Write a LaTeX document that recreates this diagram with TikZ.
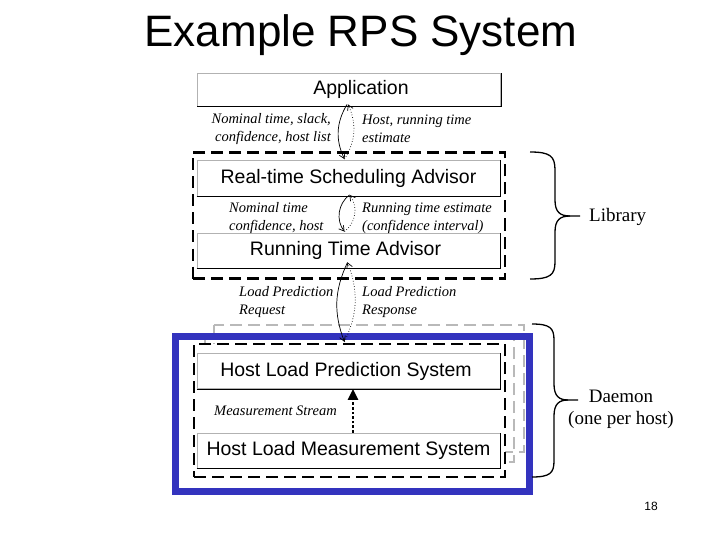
\documentclass[tikz,border=0pt]{standalone}
\usepackage{fontspec}
\setmainfont{Liberation Serif}
\setsansfont{Liberation Sans}
\usetikzlibrary{arrows.meta}
\definecolor{frameblue}{RGB}{51,51,190}

\tikzset{
  advbox/.style={draw=gray!60, line width=0.8pt, fill=white, inner sep=0pt,
    minimum width=303pt, minimum height=35pt, font=\sffamily\fontsize{19.5}{22}\selectfont},
  groupbox/.style={draw, line width=2.2pt, dash pattern=on 12pt off 6pt, inner sep=0pt},
  shadowbox/.style={draw=gray!55, line width=1.3pt, dash pattern=on 12pt off 6pt},
  msg/.style={font=\itshape\fontsize{14.5}{17.5}\selectfont, inner sep=0pt},
  req/.style={line width=0.7pt, -{Straight Barb[length=5pt,width=6pt]}},
  resp/.style={req, dotted},
  bracket/.style={line width=1.3pt},
  side/.style={font=\fontsize{19}{22}\selectfont, inner sep=0pt, align=center}
}

\begin{document}
\begin{tikzpicture}[x=1pt,y=-1pt]
\useasboundingbox (0,0) rectangle (720,540);

\node[font=\sffamily\fontsize{44}{48}\selectfont, anchor=base] (title) at (361,47) {Example RPS System};

% library part
\node[groupbox, minimum width=312pt, minimum height=126pt] (library) at (349,215.5) {};
\node[advbox, minimum height=33pt] (app) at (349,89.5) {\hspace*{24pt}Application};
\node[advbox, minimum height=36pt] (rtsa) at (348.5,178.5) {Real-time Scheduling Advisor};
\node[advbox] (rta) at (348.5,250.5) {\hspace*{-6pt}Running Time Advisor};

% daemon part
\draw[shadowbox] (214,325) rectangle (524,452);
\draw[shadowbox] (205,334) rectangle (514,462);
\node[draw=frameblue, line width=7pt, minimum width=354pt, minimum height=155pt] (hostframe) at (352,413.5) {};
\node[groupbox, fill=white, minimum width=311pt, minimum height=133pt] (daemon) at (349.5,410.5) {};
\node[advbox] (hlps) at (348.5,371) {\hspace*{-5pt}Host Load Prediction System};
\node[advbox] (hlms) at (348.5,450.5) {Host Load Measurement System};

\foreach \b in {app,rtsa,rta,hlps,hlms}
  \draw[line width=0.8pt] (\b.south west) -- (\b.south east) -- (\b.north east);

% messages
\draw[req] ([xshift=-2pt,yshift=2pt]app.south) to[bend right=28] ([xshift=-4pt,yshift=1pt]rtsa.north);
\draw[resp] ([xshift=-4pt,yshift=1pt]rtsa.north) to[bend right=28] ([xshift=-1pt,yshift=2pt]app.south);
\node[msg, anchor=east, align=right] (q1) at (331,129) {Nominal time, slack,\\confidence, host list};
\node[msg, anchor=west, align=left] (a1) at (362,129) {Host, running time\\estimate};

\draw[req] ([xshift=1pt,yshift=2pt]rtsa.south) to[bend right=45] ([xshift=-4pt,yshift=1pt]rta.north);
\draw[resp] ([xshift=-4pt,yshift=1pt]rta.north) to[bend right=45] ([xshift=1pt,yshift=2pt]rtsa.south);
\node[msg, anchor=west, align=left] (q2) at (229,218) {Nominal time\\confidence, host};
\node[msg, anchor=west, align=left] (a2) at (362,218) {Running time estimate\\(confidence interval)};

\draw[req] ([xshift=-1pt,yshift=6pt]rta.south) to[bend right=23] ([xshift=-5pt,yshift=1pt]daemon.north);
\draw[resp] ([xshift=-5pt,yshift=1pt]daemon.north) to[bend right=23] ([xshift=-1pt,yshift=6pt]rta.south);
\node[msg, anchor=west, align=left] (q3) at (239,302) {Load Prediction\\Request};
\node[msg, anchor=west, align=left] (a3) at (362,302) {Load Prediction\\Response};

\draw[line width=2.6pt, dash pattern=on 2.6pt off 2pt, -{Triangle[length=11pt,width=10pt]}]
  ([xshift=4.5pt]hlms.north) -- ([xshift=4.5pt]hlps.south);
\node[msg, font=\itshape\fontsize{14.5}{16}\selectfont, anchor=west] (stream) at (214,411) {Measurement Stream};

% braces
\coordinate (libtip) at (580,216);
\draw[bracket] (530,152) .. controls (550,152) and (555,156) .. (555,170) -- (555,200)
  .. controls (555,212) and (560,216) .. (570,216) -- (libtip);
\draw[bracket] (530,279) .. controls (550,279) and (555,275) .. (555,262) -- (555,232)
  .. controls (555,220) and (560,216) .. (570,216);
\node[side, anchor=west] (libtxt) at (589,217) {Library};

\coordinate (daetip) at (578,400);
\draw[bracket] (532,324) .. controls (550,324) and (554,328) .. (554,340) -- (554,384)
  .. controls (554,396) and (559,400) .. (568,400) -- (daetip);
\draw[bracket] (532,477) .. controls (550,477) and (554,473) .. (554,461) -- (554,416)
  .. controls (554,404) and (559,400) .. (568,400);
\node[side] (daetxt) at (621,409) {Daemon\\(one per host)};

\node[font=\sffamily\fontsize{12}{14}\selectfont, anchor=base] (page) at (651,510) {18};
\end{tikzpicture}
\end{document}
